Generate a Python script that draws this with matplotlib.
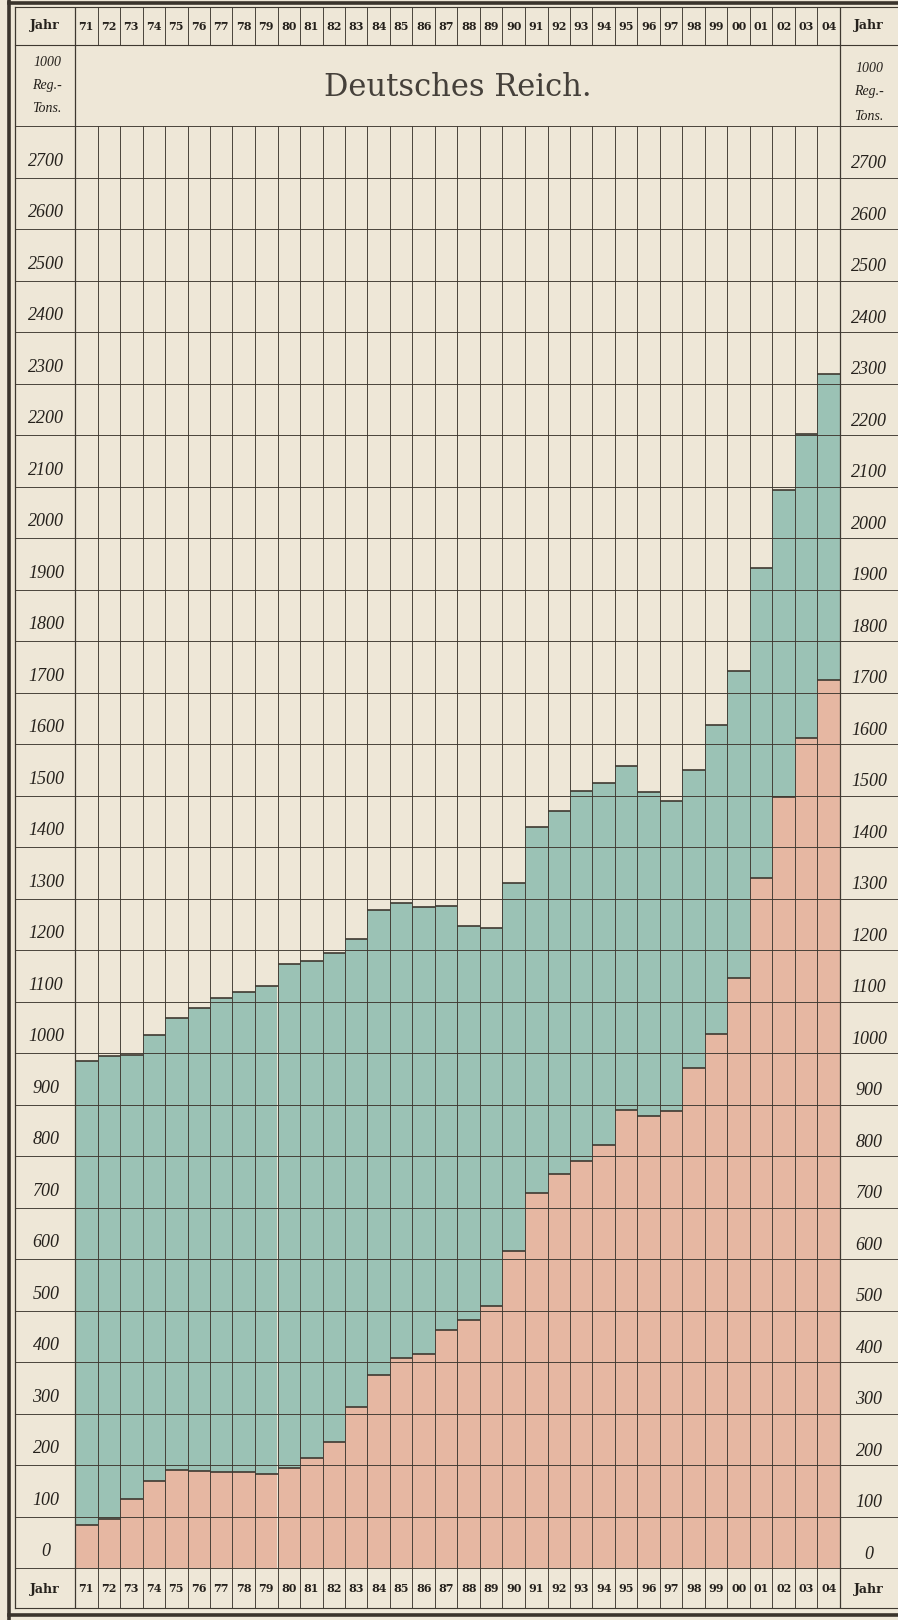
import matplotlib

matplotlib.use("Agg")
import matplotlib.pyplot as plt
import numpy as np

# Handelsflotte Deutsches Reich, 1000 Reg.-Tons
jahre = ["71", "72", "73", "74", "75", "76", "77", "78", "79", "80",
         "81", "82", "83", "84", "85", "86", "87", "88", "89", "90",
         "91", "92", "93", "94", "95", "96", "97", "98", "99", "00",
         "01", "02", "03", "04"]
dampfer = [84, 95, 134, 168, 190, 189, 186, 186, 182, 195,
           213, 245, 312, 375, 408, 416, 462, 481, 508, 615,
           729, 766, 790, 821, 890, 877, 887, 971, 1037, 1145,
           1340, 1498, 1612, 1725]
gesamt = [984, 994, 997, 1034, 1068, 1088, 1107, 1118, 1130, 1173,
          1178, 1194, 1222, 1277, 1292, 1283, 1286, 1247, 1243, 1331,
          1439, 1469, 1508, 1524, 1558, 1507, 1490, 1550, 1636, 1742,
          1942, 2093, 2201, 2318]
skala = list(range(0, 2800, 100))
titel = "Deutsches Reich."

PAPER = "#eee7d7"
TEAL = "#9bc2b5"
PINK = "#e6b7a2"
INK = "#3e3830"
TXT = "#25211c"

# layout in pixels
W, H = 898, 1620
PL, PR, PT, PB = 75, 840, 126, 1568
HDR_T, HDR_B, FTR_B = 7, 45, 1608
BORDER_IN = 15
GRID_LW = 0.65


def axx(px):
    return (px - PL) / (PR - PL)


def axy(py):
    return (PB - py) / (PB - PT)


fig = plt.figure(figsize=(W / 100, H / 100), dpi=100, facecolor=PAPER)
ax = fig.add_axes([PL / W, 1 - PB / H, (PR - PL) / W, (PB - PT) / H])
ax.set_facecolor(PAPER)
n = len(jahre)
ax.set_xlim(0, n)
ax.set_ylim(0, 2800)
for s in ax.spines.values():
    s.set_visible(False)
ax.set_xticks([])
ax.set_yticks([])

x = np.arange(n)
d = np.array(dampfer)
g = np.array(gesamt)
ax.bar(x, d, width=1, align="edge", color=PINK, lw=0, zorder=1)
ax.bar(x, g - d, bottom=d, width=1, align="edge", color=TEAL, lw=0, zorder=1)
ax.hlines(d, x, x + 1, color=INK, lw=1.2, zorder=3)
ax.hlines(g, x, x + 1, color=INK, lw=1.2, zorder=3)

# grid, running through the label columns
yt = ax.get_yaxis_transform()
xt = ax.get_xaxis_transform()
ax.hlines(np.arange(0, 2801, 100), axx(BORDER_IN), axx(W), transform=yt,
          color=INK, lw=GRID_LW, clip_on=False, zorder=2)
edges = np.arange(n + 1)
ax.vlines(edges, 0, 1, transform=xt, color=INK, lw=GRID_LW, clip_on=False, zorder=2)
ax.vlines(edges, axy(HDR_B), axy(HDR_T), transform=xt, color=INK, lw=GRID_LW, clip_on=False)
ax.vlines(edges, axy(FTR_B), 0, transform=xt, color=INK, lw=GRID_LW, clip_on=False)
ax.vlines([0, n], axy(FTR_B), axy(HDR_T), transform=xt, color=INK, lw=0.9, clip_on=False)

ta = ax.transAxes
for py in (HDR_T, HDR_B, FTR_B):
    ax.plot([axx(BORDER_IN), axx(W)], [axy(py)] * 2, transform=ta, color=INK,
            lw=0.8, clip_on=False)
# outer frame
ax.plot([axx(BORDER_IN)] * 2, [axy(HDR_T), axy(FTR_B)], transform=ta, color=INK,
        lw=0.9, clip_on=False)
ax.plot([axx(9)] * 2, [axy(0), axy(H)], transform=ta, color="#3a342c", lw=2.6, clip_on=False)
ax.plot([axx(9), axx(W)], [axy(2.5)] * 2, transform=ta, color="#3a342c", lw=2.6, clip_on=False)
ax.plot([axx(9), axx(W)], [axy(1615)] * 2, transform=ta, color="#3a342c", lw=2.6, clip_on=False)

# year labels top and bottom
for i, j in enumerate(jahre):
    for py in (26, 1589):
        ax.text(i + 0.5, axy(py), j, transform=xt, ha="center", va="center",
                fontsize=8, fontweight="bold", family="DejaVu Serif", color=TXT)
for py in (26, 1589):
    for px in (45, 869):
        ax.text(axx(px), axy(py), "Jahr", transform=ta, ha="center", va="center",
                fontsize=9, fontweight="bold", family="DejaVu Serif", color=TXT)

ax.text(n / 2, axy(88), titel, transform=xt, ha="center", va="center",
        fontsize=22, family="DejaVu Serif", color="#45403a")

# unit labels
for px, rows in ((47, (62, 85, 108)), (869, (68, 92, 116))):
    for txt, py in zip(("1000", "Reg.-", "Tons."), rows):
        ax.text(axx(px), axy(py), txt, transform=ta, ha="center", va="center",
                fontsize=10, style="italic", family="Liberation Serif", color=TXT)

# scale labels sit in the band above their line
for v in skala:
    ax.text(axx(46), v + 32, str(v), transform=yt, ha="center", va="center",
            fontsize=13, style="italic", family="Liberation Serif", color=TXT)
    ax.text(axx(869), v + 27, str(v), transform=yt, ha="center", va="center",
            fontsize=13, style="italic", family="Liberation Serif", color=TXT)

fig.savefig("out.png", dpi=100, facecolor=PAPER)
